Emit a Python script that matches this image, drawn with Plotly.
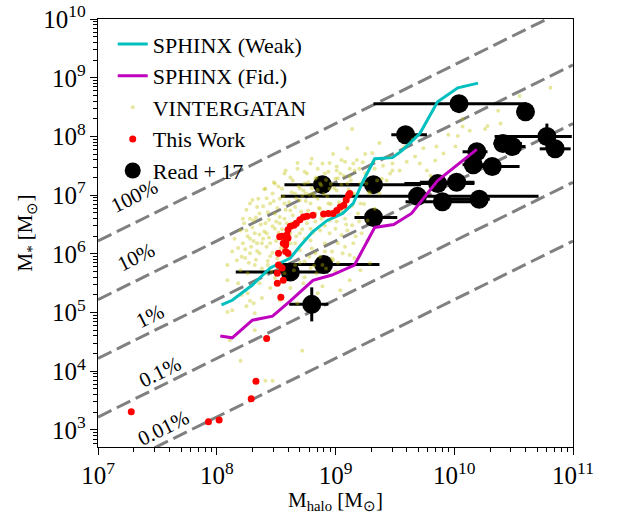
import numpy as np
import plotly.graph_objects as go

# ---------------- data (log10 values) ----------------
baryon_fraction = 0.166
efficiencies = [1.0, 0.1, 0.01, 0.001, 0.0001]
efficiency_labels = ["100%", "10%", "1%", "0.1%", "0.01%"]
label_log_mhalo = [7.31, 7.32, 7.44, 7.52, 7.55]
label_log_mstar = [6.98, 5.94, 4.94, 3.99, 3.04]

sphinx_weak_log_mhalo = [8.04, 8.13, 8.30, 8.45, 8.62, 8.70, 8.81, 8.93, 9.06, 9.15,
                         9.23, 9.33, 9.48, 9.56, 9.71, 9.86, 10.03, 10.20]
sphinx_weak_log_mstar = [5.13, 5.21, 5.47, 5.76, 5.93, 6.13, 6.38, 6.57, 6.69, 6.86,
                         7.23, 7.62, 7.64, 7.76, 8.05, 8.59, 8.83, 8.91]

sphinx_fid_log_mhalo = [8.03, 8.13, 8.30, 8.47, 8.62, 8.81, 8.97, 9.16, 9.33, 9.49,
                        9.64, 9.86, 10.19]
sphinx_fid_log_mstar = [4.60, 4.57, 4.87, 4.94, 5.20, 5.55, 5.64, 5.81, 6.45, 6.50,
                        6.69, 7.25, 7.78]

this_work_log_mhalo = [7.28, 7.93, 8.02, 8.29, 8.33, 8.42, 8.54, 8.51, 8.56, 8.51,
                       8.52, 8.58, 8.53, 8.58, 8.59, 8.60, 8.62, 8.65, 8.67, 8.70,
                       8.73, 8.76, 8.81, 8.90, 8.94, 8.98, 9.01, 9.04, 9.07, 9.09,
                       9.11, 9.12, 8.58, 8.60, 8.56, 8.55, 8.60, 8.52, 8.55]
this_work_log_mstar = [3.31, 3.14, 3.17, 3.53, 3.83, 4.56, 5.26, 5.50, 5.55, 5.67,
                       6.01, 6.04, 6.29, 6.21, 6.32, 6.41, 6.47, 6.49, 6.52, 6.58,
                       6.63, 6.64, 6.66, 6.68, 6.69, 6.69, 6.74, 6.80, 6.83, 6.92,
                       7.00, 7.03, 6.15, 6.27, 6.18, 6.30, 6.01, 5.81, 5.76]

read17_log_mhalo = [10.04, 10.60, 9.59, 10.78, 10.41, 10.49, 10.85, 10.19, 10.16, 10.32,
                    9.86, 10.02, 9.32, 8.89, 9.69, 9.90, 10.21, 9.32, 8.90, 8.62, 8.80]
read17_log_mstar = [8.56, 8.42, 8.03, 8.00, 7.88, 7.83, 7.79, 7.74, 7.52, 7.49,
                    7.20, 7.22, 7.18, 7.18, 6.98, 6.89, 6.93, 6.62, 5.82, 5.69, 5.14]
read17_mhalo_err_lo = [0.72, 0.06, 0.12, 0.44, 0.08, 0.10, 0.13, 0.12, 0.09, 0.14,
                       0.28, 0.31, 0.36, 0.32, 1.15, 0.31, 0.29, 0.16, 0.40, 0.46, 0.19]
read17_mhalo_err_hi = [0.57, 0.06, 0.18, 0.21, 0.16, 0.11, 0.13, 0.09, 0.10, 0.23,
                       0.31, 0.15, 0.40, 0.32, 1.02, 0.32, 0.09, 0.20, 0.47, 0.32, 0.14]
read17_mstar_err = [0, 0, 0, 0.22, 0, 0, 0, 0, 0, 0,
                    0, 0, 0, 0, 0, 0, 0, 0, 0, 0, 0.29]

vintergatan_log_mhalo = [
    10.81, 10.55, 10.37, 10.07, 10.39, 10.28, 10.07, 10.26, 10.13, 9.95, 10.03, 9.14, 9.85, 10.01,
    9.37, 9.31, 9.91, 9.67, 9.84, 9.08, 9.23, 9.48, 9.71, 9.60, 9.54, 9.77, 9.01, 9.16, 9.80, 9.46,
    9.39, 9.12, 9.43, 9.48, 9.37, 9.21, 9.27, 9.27, 9.29, 9.21, 9.12, 9.04, 8.89, 8.73, 8.68, 8.53,
    8.31, 8.26, 8.13, 8.09, 8.17, 8.20, 8.25, 8.32, 8.32, 8.11, 8.20, 8.41, 8.47, 8.72, 8.09, 8.28,
    9.15, 9.01, 8.89, 8.76, 8.64, 8.47, 8.39, 8.31, 8.25, 8.22, 8.34, 8.42, 8.53, 8.62, 8.70, 8.81,
    8.93, 9.01, 9.10, 9.15, 9.04, 8.95, 8.87, 8.79, 8.70, 8.62, 8.53, 8.45, 8.36, 8.28, 8.84, 8.98,
    9.06, 9.15, 9.10,
    8.36, 8.41, 8.45, 8.49, 8.53, 8.57, 8.57, 8.66, 8.70, 8.74, 8.79, 8.83, 8.87, 8.87, 8.91, 8.95,
    9.00, 9.04, 9.08, 9.12, 8.32, 8.38, 8.45, 8.49, 8.62, 8.66, 8.70, 8.74, 8.79, 8.83, 8.91, 8.95,
    9.00, 9.02, 9.08, 8.28, 8.24, 8.32, 8.41, 8.49, 8.57, 8.66, 8.74, 8.83, 8.91, 9.00, 8.36, 8.45,
    8.62, 8.79, 8.85, 8.22, 8.28, 8.35, 8.41, 8.49, 8.57, 8.68, 8.79, 9.21, 9.25, 9.33, 9.29, 9.19,
    9.22, 9.16, 9.33, 8.26, 8.18, 8.21, 8.38, 8.57, 8.63, 8.55, 8.75, 8.85, 9.08, 8.94, 8.43, 8.52,
    8.60, 8.68, 8.77, 8.80, 8.89, 8.97, 9.05, 9.14, 8.13, 8.15, 8.09]
vintergatan_log_mstar = [
    8.83, 8.69, 8.44, 8.30, 8.22, 8.18, 8.17, 8.13, 8.10, 8.03, 8.01, 8.13, 7.83, 7.83,
    7.89, 7.72, 7.71, 7.66, 7.59, 7.57, 7.56, 7.54, 7.54, 7.57, 7.42, 7.42, 7.42, 7.42, 7.33, 7.37,
    7.28, 7.32, 7.25, 7.42, 7.03, 6.86, 6.57, 6.23, 5.84, 5.72, 5.55, 5.38, 5.45, 5.50, 5.16, 5.21,
    5.16, 5.33, 5.04, 5.55, 5.89, 5.72, 5.11, 4.99, 4.70, 4.53, 4.18, 3.84, 3.84, 4.35, 5.01, 5.20,
    7.54, 7.49, 7.54, 7.37, 7.25, 7.03, 6.81, 6.57, 6.40, 6.18, 6.18, 6.35, 6.52, 6.74, 6.91, 7.03,
    6.98, 7.08, 7.20, 7.03, 6.74, 6.57, 6.40, 6.23, 6.06, 5.96, 5.84, 5.96, 6.01, 6.01, 5.67, 5.89,
    6.01, 6.18, 6.40,
    6.69, 6.52, 6.86, 6.69, 6.94, 6.86, 6.60, 7.03, 7.11, 7.20, 6.86, 7.28, 7.20, 6.77, 7.37, 7.11,
    7.28, 7.37, 6.94, 7.45, 6.35, 6.18, 6.18, 6.43, 6.35, 6.18, 6.35, 6.60, 6.43, 6.69, 6.18, 6.35,
    6.43, 6.18, 6.60, 6.26, 5.93, 5.81, 5.67, 5.59, 5.67, 5.81, 5.87, 6.01, 6.04, 5.70, 5.50, 5.42,
    5.42, 5.76, 5.33, 6.60, 6.86, 6.94, 7.11, 7.20, 7.37, 7.45, 7.54, 7.20, 7.37, 7.45, 7.03, 6.69,
    6.35, 5.93, 6.77, 5.67, 5.50, 5.30, 5.25, 6.09, 6.52, 7.11, 7.03, 6.94, 6.77, 6.86, 5.81, 6.01,
    6.18, 6.49, 6.74, 6.09, 5.81, 6.04, 6.32, 6.49, 6.04, 6.26, 5.81]

# denser core of the VINTERGATAN cloud: (log Mhalo, log M*)
vintergatan_core_points = [
    (8.30, 6.45), (8.33, 6.62), (8.37, 6.50), (8.40, 6.38), (8.43, 6.71), (8.44, 6.58),
    (8.47, 6.47), (8.48, 6.90), (8.50, 6.55), (8.51, 6.78), (8.53, 6.63), (8.55, 6.42),
    (8.56, 6.98), (8.58, 6.75), (8.59, 6.52), (8.61, 6.88), (8.63, 7.05), (8.64, 6.66),
    (8.66, 6.80), (8.67, 6.95), (8.69, 7.15), (8.71, 6.72), (8.72, 6.99), (8.73, 7.08),
    (8.75, 6.90), (8.77, 7.22), (8.78, 7.01), (8.80, 7.12), (8.82, 6.98), (8.84, 7.30),
    (8.85, 7.09), (8.88, 7.17), (8.90, 7.02), (8.92, 7.26), (8.94, 7.40), (8.96, 7.19),
    (8.99, 7.12), (9.02, 7.29), (9.05, 7.18), (9.07, 7.33), (9.11, 7.10), (9.13, 7.25),
    (8.26, 6.30), (8.29, 6.12), (8.31, 6.22), (8.34, 6.05), (8.36, 6.33), (8.39, 6.26),
    (8.42, 6.12), (8.44, 6.28), (8.47, 6.02), (8.50, 6.22), (8.52, 6.36), (8.54, 6.10),
    (8.57, 6.27), (8.59, 6.40), (8.62, 6.18), (8.64, 6.45), (8.67, 6.30), (8.69, 6.56),
    (8.72, 6.42), (8.74, 6.26), (8.76, 6.52), (8.79, 6.65), (8.81, 6.36), (8.83, 6.55),
    (8.86, 6.78), (8.88, 6.60), (8.91, 6.48), (8.93, 6.71), (8.96, 6.85), (8.98, 6.62),
    (9.01, 6.55), (9.03, 6.88), (9.06, 6.70), (9.09, 6.50),
    (8.20, 6.40), (8.23, 6.52), (8.25, 6.75), (8.28, 6.60), (8.18, 6.10), (8.21, 5.95),
    (8.24, 6.08), (8.27, 5.85), (8.33, 5.90), (8.38, 5.75), (8.43, 5.88), (8.46, 5.70),
    (8.51, 5.92), (8.55, 5.80), (8.60, 5.95), (8.65, 5.72), (8.70, 5.85), (8.74, 5.60),
    (8.78, 5.95), (8.82, 5.80), (8.87, 5.95), (8.92, 5.75), (8.97, 5.92), (9.02, 5.85),
    (9.08, 6.12), (9.12, 5.98), (9.17, 6.30), (9.20, 6.55), (9.24, 6.85), (9.28, 7.05),
    (9.35, 7.25), (9.40, 7.50), (9.45, 7.65), (9.52, 7.70), (9.58, 7.82), (9.65, 7.95),
    (9.74, 7.80), (9.18, 7.60), (9.25, 7.70), (9.32, 7.58), (9.05, 7.60), (8.95, 7.55),
    (8.85, 7.45), (8.74, 7.40), (8.62, 7.30), (8.52, 7.15), (8.42, 6.95), (8.34, 6.80),
    (8.30, 6.92), (8.40, 7.10), (8.48, 7.22), (8.58, 7.42), (8.68, 7.55), (8.80, 7.62),
    (8.98, 7.70), (9.10, 7.80), (9.20, 7.45), (9.26, 7.20), (9.14, 6.82), (9.18, 7.02),
]

# ---------------- figure ----------------
FONT = "Liberation Serif"
fig = go.Figure()

x_line = np.array([1e7, 1e11])
for eff in efficiencies:
    fig.add_trace(go.Scatter(x=x_line, y=eff * baryon_fraction * x_line, mode="lines",
                             line=dict(color="#808080", width=3, dash="15px,6px"),
                             showlegend=False, hoverinfo="skip"))

lmh = np.array(read17_log_mhalo)
mh = 10 ** lmh
ms = 10 ** np.array(read17_log_mstar)
fig.add_trace(go.Scatter(
    x=mh, y=ms, mode="markers", name="Read + 17", legendrank=5,
    marker=dict(color="black", size=19),
    error_x=dict(type="data", symmetric=False,
                 array=10 ** (lmh + np.array(read17_mhalo_err_hi)) - mh,
                 arrayminus=mh - 10 ** (lmh - np.array(read17_mhalo_err_lo)),
                 color="black", thickness=3, width=0),
    error_y=dict(type="data", symmetric=False,
                 array=ms * (10 ** np.array(read17_mstar_err) - 1),
                 arrayminus=ms * (1 - 10 ** (-np.array(read17_mstar_err))),
                 color="black", thickness=3, width=0),
))

v_mh = list(vintergatan_log_mhalo) + [p[0] for p in vintergatan_core_points]
v_ms = list(vintergatan_log_mstar) + [p[1] for p in vintergatan_core_points]
fig.add_trace(go.Scatter(
    x=10 ** np.array(v_mh), y=10 ** np.array(v_ms),
    mode="markers", name="VINTERGATAN", legendrank=3,
    marker=dict(color="rgba(191,191,0,0.38)", size=4, line=dict(width=0)),
))

fig.add_trace(go.Scatter(
    x=10 ** np.array(sphinx_weak_log_mhalo), y=10 ** np.array(sphinx_weak_log_mstar),
    mode="lines", name="SPHINX (Weak)", legendrank=1,
    line=dict(color="#00bfbf", width=3),
))
fig.add_trace(go.Scatter(
    x=10 ** np.array(sphinx_fid_log_mhalo), y=10 ** np.array(sphinx_fid_log_mstar),
    mode="lines", name="SPHINX (Fid.)", legendrank=2,
    line=dict(color="#bf00bf", width=3),
))
fig.add_trace(go.Scatter(
    x=10 ** np.array(this_work_log_mhalo), y=10 ** np.array(this_work_log_mstar),
    mode="markers", name="This Work", legendrank=4,
    marker=dict(color="#ff0000", size=7, line=dict(width=0)),
))

for lab, lx, ly in zip(efficiency_labels, label_log_mhalo, label_log_mstar):
    fig.add_annotation(x=lx, y=ly, xref="x", yref="y", text=lab, showarrow=False,
                       textangle=-26.4, font=dict(family=FONT, size=21, color="black"))

axis_common = dict(
    type="log", showgrid=False, zeroline=False, showline=True, linecolor="black",
    linewidth=1.3, mirror=True, ticks="outside", ticklen=7, tickwidth=1.3,
    tickcolor="black", dtick=1, exponentformat="power", automargin=False,
    ticklabeloverflow="allow",
    tickfont=dict(family=FONT, size=20, color="black"),
    minor=dict(ticks="outside", ticklen=4, tickwidth=1, tickcolor="black", dtick="D1",
               showgrid=False),
)
fig.update_xaxes(range=[7, 11], title=dict(text="M<sub>halo</sub> [M<sub>⊙</sub>]",
                 font=dict(family=FONT, size=21, color="black"), standoff=6), **axis_common)
fig.update_yaxes(range=[2.71, 10.002], title=dict(text="M<sub>*</sub> [M<sub>⊙</sub>]",
                 font=dict(family=FONT, size=21, color="black"), standoff=4), **axis_common)

fig.update_layout(
    width=621, height=514,
    margin=dict(l=98, r=48, t=19, b=67),
    plot_bgcolor="white", paper_bgcolor="white",
    legend=dict(x=0.031, y=0.99, xanchor="left", yanchor="top", bgcolor="rgba(0,0,0,0)",
                font=dict(family=FONT, size=22, color="black"), tracegroupgap=0,
                itemwidth=30),
    showlegend=True,
)

fig.write_html("out.html")
